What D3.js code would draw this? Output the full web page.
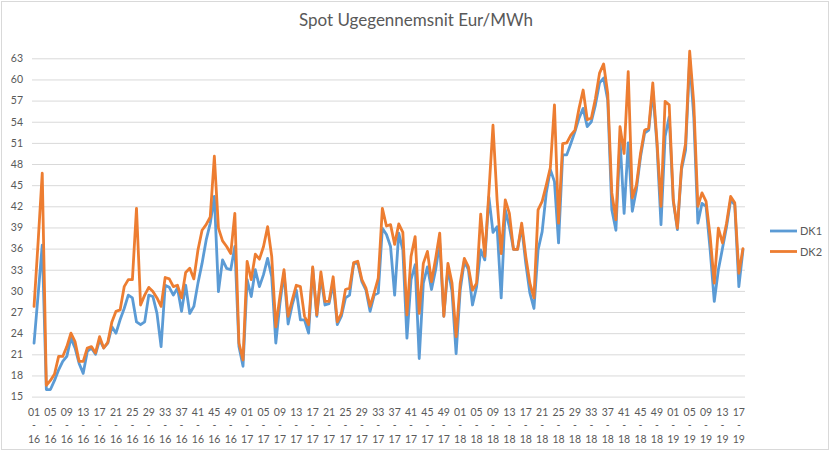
<!DOCTYPE html>
<html><head><meta charset="utf-8">
<script src="https://cdn.jsdelivr.net/npm/d3@7"></script>
<style>body{margin:0;background:#fff}svg{display:block}text{font-family:Lato,"Liberation Sans",sans-serif;fill:#595959}</style>
</head><body><svg id="c" width="832" height="452"></svg>
<script>
const title = "Spot Ugegennemsnit Eur/MWh";
const seriesNames = ["DK1", "DK2"];
const years = ["16", "17", "18", "19"];
const weeksPerYear = [52, 52, 52, 18];
const yTicks = [15, 18, 21, 24, 27, 30, 33, 36, 39, 42, 45, 48, 51, 54, 57, 60, 63];
const dk1 = [22.6,29.5,36.5,16.0,16.0,17.3,18.8,20.0,20.7,23.3,21.9,19.7,18.3,21.4,21.9,21.0,23.0,21.9,22.6,24.9,24.0,25.9,27.5,29.4,29.0,25.6,25.2,25.6,29.4,29.2,
26.8,22.1,30.8,30.5,29.4,30.4,27.1,30.8,26.8,27.8,31.1,33.9,37.2,39.6,43.4,29.9,34.4,33.2,33.0,36.3,22.1,19.3,
31.6,29.2,33.0,30.6,32.3,34.6,32.0,22.6,28.2,32.5,25.3,28.0,30.1,25.9,25.9,24.0,33.2,26.4,32.0,28.0,28.2,31.1,25.2,26.4,29.0,29.4,33.9,33.9,
31.3,30.1,27.1,29.4,29.7,38.9,38.0,36.3,29.4,38.2,35.8,23.3,31.6,33.7,20.4,31.1,33.4,30.2,33.0,36.8,26.4,33.2,29.9,21.1,
30.1,34.2,33.0,28.0,30.6,35.8,34.4,43.3,38.3,39.1,29.0,41.5,39.1,35.9,35.9,39.1,33.9,29.7,27.5,35.8,38.4,43.9,47.2,45.5,36.8,49.3,
49.3,50.9,52.6,54.5,55.9,53.3,54.0,56.4,59.5,60.2,57.1,41.5,38.6,51.5,41.0,51.0,41.3,44.4,49.0,52.4,52.8,58.3,50.9,39.4,51.9,54.7,
42.7,38.7,47.2,50.0,62.8,54.7,39.6,42.4,42.0,35.8,28.5,33.0,36.0,39.1,42.9,42.2,30.6,35.8];
const dk2 = [27.8,37.0,46.7,16.6,17.3,18.2,20.7,20.7,22.1,24.0,22.8,20.0,20.0,21.9,22.1,21.2,23.5,21.9,22.7,25.6,27.1,27.3,30.6,31.6,31.6,41.7,28.0,29.4,30.5,29.9,
29.0,27.8,31.9,31.7,30.6,30.8,29.0,32.6,33.2,31.7,35.8,38.6,39.4,40.5,49.1,38.9,37.1,36.3,35.3,41.0,22.6,20.2,
34.2,31.6,35.2,34.5,36.3,39.1,34.9,24.9,29.2,33.0,26.4,28.7,30.8,30.6,26.4,25.2,33.4,26.6,32.7,28.5,28.5,32.0,25.6,26.8,30.2,30.4,34.0,34.2,
31.6,30.4,27.8,29.7,31.8,41.7,39.2,39.4,36.6,39.5,38.3,26.6,34.9,37.7,26.8,33.9,35.6,31.3,34.6,38.2,26.4,33.9,31.1,23.5,
31.1,34.6,33.4,30.1,31.1,40.9,34.9,44.0,53.5,42.9,35.3,42.9,41.0,35.9,35.9,39.6,34.9,31.1,29.0,41.5,42.7,45.0,47.5,56.4,39.6,50.9,
51.0,52.1,52.8,55.9,58.5,54.3,54.5,57.3,60.9,62.2,58.0,43.9,40.1,53.3,49.5,61.1,43.2,45.0,49.5,52.8,53.1,59.5,51.4,42.0,56.9,56.4,
42.9,38.9,47.6,50.9,64.0,56.6,42.0,43.9,42.7,37.7,31.1,38.9,36.8,39.6,43.4,42.5,32.5,36.0];
const colors = ["#5B9BD5", "#ED7D31"];

// categories "week - year"
const categories = [];
years.forEach((yr, k) => { for (let w = 1; w <= weeksPerYear[k]; w++) categories.push({ w: String(w).padStart(2, "0"), y: yr }); });

const svg = d3.select("#c");
svg.append("rect").attr("x", 1.5).attr("y", 1.5).attr("width", 827).attr("height", 448)
  .attr("fill", "#fff").attr("stroke", "#d9d9d9");

const pL = 32, pR = 745, pT = 58.3, pB = 396.6;
const x = d3.scaleBand().domain(d3.range(categories.length)).range([pL, pR]);
const y = d3.scaleLinear().domain([15, 63]).range([pB, pT]);

svg.append("text").attr("x", 416).attr("y", 26).attr("text-anchor", "middle")
  .style("font-size", "17px").text(title);

// grid + y labels
const yAxis = d3.axisLeft(y).tickValues(yTicks).tickSize(-(pR - pL)).tickPadding(10);
const gy = svg.append("g").attr("transform", `translate(${pL},0)`).call(yAxis);
gy.select(".domain").remove();
gy.selectAll(".tick line").attr("stroke", "#d9d9d9").attr("stroke-width", 1);
gy.selectAll(".tick text").style("font-size", "10.5px").attr("fill", "#595959").attr("x", -9);

// x labels
const xAxis = d3.axisBottom(x).tickValues(d3.range(0, categories.length, 4)).tickSize(0).tickFormat("");
const gx = svg.append("g").attr("transform", `translate(0,${pB})`).call(xAxis);
gx.select(".domain").remove();
gx.selectAll(".tick").each(function(i) {
  const t = d3.select(this).append("text").attr("text-anchor", "middle").style("font-size", "10.5px");
  t.append("tspan").attr("x", 0).attr("y", 19).text(categories[i].w);
  t.append("tspan").attr("x", 0).attr("y", 32).text("-");
  t.append("tspan").attr("x", 0).attr("y", 46).text(categories[i].y);
});

const line = d3.line().x((d, i) => x(i) + x.bandwidth() / 2).y(d => y(d));
[dk1, dk2].forEach((s, k) => {
  svg.append("path").datum(s).attr("d", line).attr("fill", "none")
    .attr("stroke", colors[k]).attr("stroke-width", 2.8).attr("stroke-linejoin", "round").attr("stroke-linecap", "round");
});

// legend
const ly = [231, 251.5];
seriesNames.forEach((n, k) => {
  svg.append("line").attr("x1", 770).attr("x2", 797).attr("y1", ly[k]).attr("y2", ly[k])
    .attr("stroke", colors[k]).attr("stroke-width", 2.8);
  svg.append("text").attr("x", 800).attr("y", ly[k] + 4).style("font-size", "11px").text(n);
});
</script></body></html>
